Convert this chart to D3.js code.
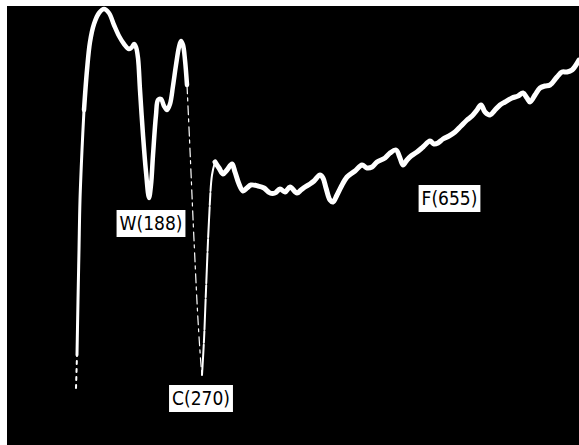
<!DOCTYPE html>
<html>
<head>
<meta charset="utf-8">
<script src="https://cdn.jsdelivr.net/npm/d3@7"></script>
<style>
  body { margin: 0; background: #fff; }
  svg { display: block; }
</style>
</head>
<body>
<script>
// trace samples: time (x) and deflection (y), in screen-grid units

// leading edge (fast, thinner beam)
const edgeX = [70, 71, 72, 73, 75, 77];
const edgeY = [90, 145, 195, 245, 295, 335];

const slowX1 = [77, 80, 83, 87, 92, 97, 102, 107, 112, 117, 122, 125, 127, 129, 131, 133, 136, 139, 142, 144, 146, 149, 151, 154, 157, 160, 163, 166, 169, 172, 174, 176, 178, 180];
const slowY1 = [335, 375, 403, 421, 432, 436, 432, 420, 409, 401, 396, 398, 401, 398, 387, 355, 310, 273, 247, 260, 290, 330, 345, 346, 339, 335, 341, 359, 380, 398, 404, 400, 385, 360];

// fast fall into the C dip (barely visible)
const fallX = [180, 183, 187, 191, 194, 195];
const fallY = [360, 295, 205, 125, 80, 70];

// fast rise out of the C dip
const riseX = [195, 197, 199, 202, 205, 208];
const riseY = [70, 105, 155, 225, 270, 283];

const slowX2 = [208, 212, 216, 220, 225, 228, 232, 236, 240, 244, 251, 257, 263, 268, 273, 278, 283, 290, 294, 298, 303, 307, 313, 316, 319, 323, 326, 330, 334, 340, 348, 355, 360, 365, 370, 378, 383, 389, 393, 396, 400, 404, 410, 416, 423, 427, 431, 436, 442, 448, 454, 460, 465, 470, 474, 478, 483, 488, 493, 498, 505, 511, 516, 520, 523, 528, 533, 538, 543, 550, 555, 560, 565, 572];
const slowY2 = [283, 277, 271, 275, 281, 273, 261, 254, 257, 260, 259, 257, 252, 252, 256, 253, 258, 252, 255, 258, 261, 264, 270, 267, 257, 245, 243, 250, 258, 268, 274, 280, 277, 278, 283, 287, 292, 295, 287, 280, 285, 289, 293, 298, 304, 301, 302, 306, 309, 313, 319, 325, 329, 335, 340, 333, 330, 335, 340, 343, 347, 349, 352, 347, 343, 350, 357, 359, 360, 368, 373, 373, 375, 385];

// annotations
const labels = ["W(188)", "C(270)", "F(655)"];
const labelX = [144, 194, 442.5];
const labelY = [221.5, 46.5, 246.5];

const height = 445,
      width = 579,
      margin = ({ top: 6, right: 0, bottom: 0, left: 7 });

let svg = d3.select("body")
    .append("svg")
    .attr("width", width)
    .attr("height", height);

// scope screen
svg.append("rect")
    .attr("x", margin.left)
    .attr("y", margin.top)
    .attr("width", width - margin.left - margin.right)
    .attr("height", height - margin.top - margin.bottom)
    .attr("fill", "#000");

let x = d3.scaleLinear()
    .domain([0, 572])
    .range([margin.left, width - margin.right]);

let y = d3.scaleLinear()
    .domain([0, 439])
    .range([height - margin.bottom, margin.top]);

let line = d3.line()
    .x(d => x(d[0]))
    .y(d => y(d[1]))
    .curve(d3.curveCatmullRom.alpha(0.5));

// each piece of the trace with its beam width / dash
const pieces = [
    { pts: d3.zip([69, 70], [57, 90]), w: 2, dash: "3 5" },
    { pts: d3.zip(edgeX, edgeY), w: 3, dash: "none" },
    { pts: d3.zip(fallX, fallY), w: 1.2, dash: "9 4 3 5" },
    { pts: d3.zip(riseX, riseY), w: 2, dash: "30 2 12 2" },
    { pts: d3.zip(slowX1, slowY1), w: 4.5, dash: "none" },
    { pts: d3.zip(slowX2, slowY2), w: 5, dash: "none" }
];

svg.selectAll(".trace")
    .data(pieces)
    .join("path")
    .attr("class", "trace")
    .attr("d", d => line(d.pts))
    .attr("fill", "none")
    .attr("stroke", "#fff")
    .attr("stroke-width", d => d.w)
    .attr("stroke-dasharray", d => d.dash)
    .attr("stroke-linejoin", "round")
    .attr("stroke-linecap", "round");

// labels
let lab = svg.selectAll(".lab")
    .data(labels)
    .join("g")
    .attr("class", "lab")
    .attr("transform", (d, i) => `translate(${x(labelX[i])},${y(labelY[i])})`);

lab.append("rect")
    .attr("fill", "#fff");

lab.append("text")
    .text(d => d)
    .attr("text-anchor", "middle")
    .attr("dy", "0.36em")
    .style("font-family", "'DejaVu Sans Condensed', 'Liberation Sans Narrow', sans-serif")
    .style("font-size", "19px")
    .style("fill", "#000");

lab.each(function () {
    let w = d3.select(this).select("text").node().getComputedTextLength() + 6;
    d3.select(this).select("rect")
        .attr("x", -w / 2)
        .attr("y", -13.5)
        .attr("width", w)
        .attr("height", 27);
});
</script>
</body>
</html>
